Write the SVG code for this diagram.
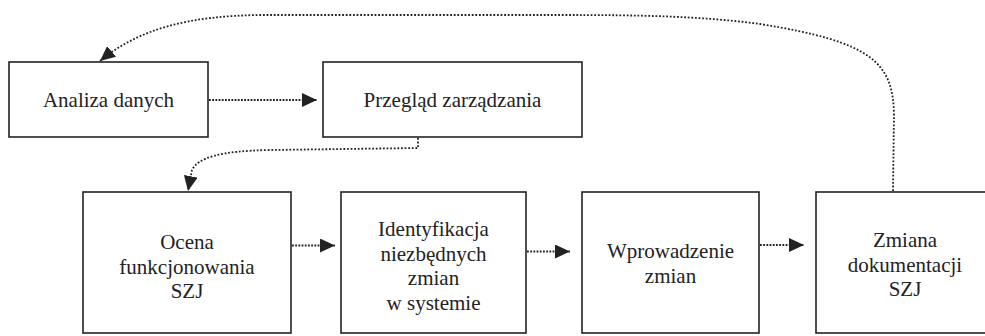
<svg xmlns="http://www.w3.org/2000/svg" width="985" height="336" viewBox="0 0 985 336">
<defs>
<style>
.box{fill:#fff;stroke:#222;stroke-width:1.6}
.t{font-family:"Liberation Serif","Times New Roman",serif;font-size:21px;fill:#222;text-anchor:middle}
.c{fill:none;stroke:#222;stroke-width:1.8;stroke-dasharray:1.8 1.4}
.cl{fill:none;stroke:#222;stroke-width:1.8;stroke-dasharray:1.8 1.8}
</style>
<marker id="ah" markerUnits="userSpaceOnUse" markerWidth="16" markerHeight="14" refX="15" refY="7" orient="auto" viewBox="0 0 16 14">
<path d="M0,0 L15,7 L0,14 z" fill="#222"/>
</marker>
</defs>
<rect width="985" height="336" fill="#fff"/>
<g id="n1"><rect class="box" x="9" y="62" width="199" height="75"/><text class="t" x="108.5" y="107">Analiza danych</text></g>
<g id="n2"><rect class="box" x="323" y="62" width="259" height="75"/><text class="t" x="452.5" y="107">Przegląd zarządzania</text></g>
<g id="n3"><rect class="box" x="83" y="192" width="208" height="141"/><text class="t" x="187" y="249">Ocena</text><text class="t" x="187" y="273.5">funkcjonowania</text><text class="t" x="187" y="298">SZJ</text></g>
<g id="n4"><rect class="box" x="341" y="192" width="185" height="141"/><text class="t" x="433.5" y="236">Identyfikacja</text><text class="t" x="433.5" y="260.5">niezbędnych</text><text class="t" x="433.5" y="285">zmian</text><text class="t" x="433.5" y="309.5">w systemie</text></g>
<g id="n5"><rect class="box" x="582" y="192" width="177" height="141"/><text class="t" x="670.5" y="258">Wprowadzenie</text><text class="t" x="670.5" y="282.5">zmian</text></g>
<g id="n6"><rect class="box" x="816" y="192" width="178" height="141"/><text class="t" x="905" y="247">Zmiana</text><text class="t" x="905" y="271.5">dokumentacji</text><text class="t" x="905" y="296">SZJ</text></g>
<g id="connectors">
<path class="c" d="M209,100 L317,100" marker-end="url(#ah)"/>
<path class="c" d="M292,245.5 L335,245.5" marker-end="url(#ah)"/>
<path class="c" d="M527,251.5 L570,251.5" marker-end="url(#ah)"/>
<path class="c" d="M760,245 L804,245" marker-end="url(#ah)"/>
<path class="cl" d="M418,138 L418,148 L270,150 C218,151 198,158 192,170 L188,191" marker-end="url(#ah)"/>
<path class="cl" d="M893,191 L894,115 C893,62 872,42 760,24 C700,16 640,15 560,15 L260,15 C190,16 140,28 100,61" marker-end="url(#ah)"/>
</g>
</svg>
